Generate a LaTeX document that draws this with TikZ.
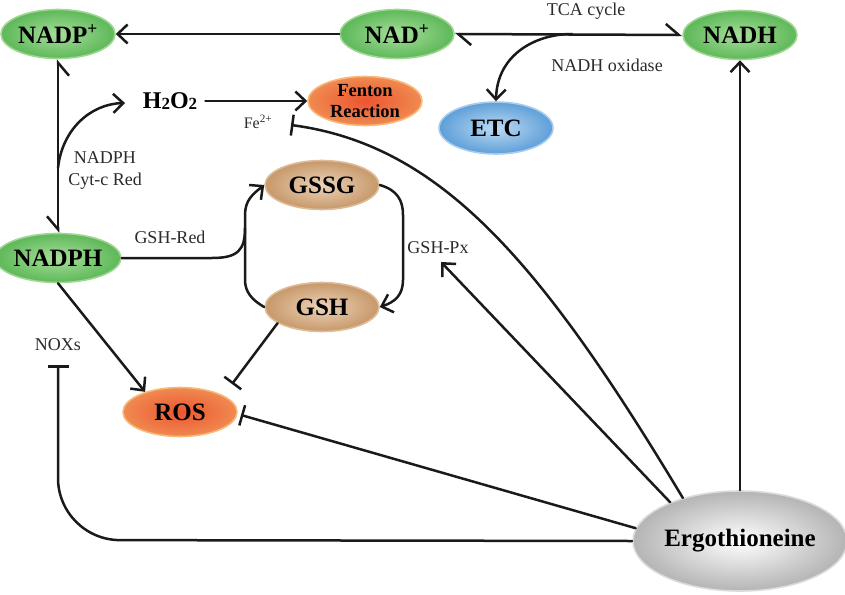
\documentclass[tikz,border=0pt]{standalone}
\usepackage{fontspec}
\setmainfont{Liberation Serif}
\usetikzlibrary{arrows.meta,shapes.geometric}
\definecolor{lnc}{HTML}{1A1A1A}
\definecolor{gin}{HTML}{A8DE9C}
\definecolor{gout}{HTML}{5DB858}
\definecolor{grim}{HTML}{9FD694}
\definecolor{rin}{HTML}{EC5530}
\definecolor{rout}{HTML}{F08A50}
\definecolor{rrim}{HTML}{F8B878}
\definecolor{bin}{HTML}{BCDAF3}
\definecolor{bout}{HTML}{5E9FD8}
\definecolor{brim}{HTML}{A8CCEE}
\definecolor{tin}{HTML}{ECD3B8}
\definecolor{tout}{HTML}{C7986A}
\definecolor{trim}{HTML}{DDBC9A}
\definecolor{ein}{HTML}{FFFFFF}
\definecolor{eout}{HTML}{B4B4B4}
\definecolor{erim}{HTML}{DADADA}
\definecolor{labc}{HTML}{2A2A2A}
\tikzset{
  barb/.tip={Straight Barb[length=10pt,width=19pt]},
  hl/.tip={Straight Barb[left,length=13pt,width=22pt]},
  hr/.tip={Straight Barb[right,length=13pt,width=22pt]},
  tbar/.tip={Bar[width=21pt]},
  lw/.style={line width=2.5pt,draw=lnc,line cap=round,line join=round},
  mol/.style={ellipse,minimum width=114pt,minimum height=49pt,inner sep=0pt,
    font=\fontsize{25pt}{27pt}\selectfont\bfseries,line width=1.6pt},
  greenfill/.style={shading=radial,inner color=gin,outer color=gout,draw=grim},
  redfill/.style={shading=radial,inner color=rin,outer color=rout,draw=rrim},
  bluefill/.style={shading=radial,inner color=bin,outer color=bout,draw=brim},
  tanfill/.style={shading=radial,inner color=tin,outer color=tout,draw=trim},
  grayfill/.style={shading=radial,inner color=ein,outer color=eout,draw=erim},
  lab/.style={font=\fontsize{18pt}{22pt}\selectfont,text=labc,inner sep=1pt}
}
\begin{document}
\begin{tikzpicture}[x=1pt,y=-1pt]
\useasboundingbox (0,0) rectangle (845,594);
% molecules
\node[mol,greenfill] (nadpp) at (58,34) {NADP\textsuperscript{+}};
\node[mol,greenfill] (nadp) at (397,34) {NAD\textsuperscript{+}};
\node[mol,greenfill] (nadh) at (740,35) {NADH};
\node[mol,greenfill] (nadph) at (58,258) {NADPH};
\node[mol,redfill,align=center,font=\fontsize{18.5pt}{21pt}\selectfont\bfseries] (fenton) at (365,101) {Fenton\\Reaction};
\node[mol,bluefill,minimum height=52pt] (etc) at (496,128) {ETC};
\node[mol,tanfill] (gssg) at (322,185) {GSSG};
\node[mol,tanfill] (gsh) at (322,307) {GSH};
\node[mol,redfill] (ros) at (180,412) {ROS};
\node[mol,grayfill,minimum width=206pt,minimum height=100pt] (erg) at (740,541) {Ergothioneine};
\node[inner sep=0pt,font=\fontsize{24pt}{26pt}\selectfont\bfseries] (h2o2) at (170,101) {H\raisebox{-1pt}{\fontsize{17pt}{17pt}\selectfont 2}O\raisebox{-1pt}{\fontsize{17pt}{17pt}\selectfont 2}};
% labels
\node[lab] (tca) at (586,11) {TCA cycle};
\node[lab] (nox) at (607,65) {NADH oxidase};
\node[lab,font=\fontsize{16pt}{18pt}\selectfont] (fe) at (258,122) {Fe\textsuperscript{2+}};
\node[lab,align=center] (cyt) at (105,170) {NADPH\\Cyt-c Red};
\node[lab] (gshred) at (170,237) {GSH-Red};
\node[lab] (gshpx) at (438,248) {GSH-Px};
\node[lab] (noxs) at (58,345) {NOXs};
% helper coordinates
\coordinate (tcaj) at (572,34);
\coordinate (hj) at (58,168);
\coordinate (htip) at (125,103);
\coordinate (feT) at (291,125);
\coordinate (pxtip) at (441,262);
\coordinate (rosT) at (241,415);
\coordinate (rosgT) at (232,384);
\coordinate (noxT) at (58,365);
% connectors
\draw[lw,-{barb}] (nadp.west) -- (nadpp.east);
\draw[lw,{hl}-{hl}] (nadp.east) -- (nadh.west);
\draw[lw,-{barb}] (tcaj) .. controls (535,34) and (497,55) .. (etc.north);
\draw[lw,{hr}-{hr}] (nadph.north) -- (nadpp.south);
\draw[lw,-{barb}] (hj) .. controls (62,130) and (90,104) .. (htip);
\draw[lw,-{barb},shorten <=8pt] (h2o2.east) -- (fenton.west);
\draw[lw,-{tbar}] (erg.143) .. controls (540,260) and (440,145) .. (feT);
\draw[lw,-{barb}] (erg.151) -- (pxtip);
\draw[lw,-{tbar}] (erg.173) -- (rosT);
\draw[lw,-{tbar},rounded corners=62pt] (erg.west) -- (58,540) -- (noxT);
\draw[lw,-{barb}] (erg.north) -- (nadh.south);
\draw[lw,-{tbar}] (gsh.200) -- (rosgT);
\draw[lw,-{barb}] (nadph.south) -- (ros.150);
\draw[lw,-{barb}] (gsh.west) .. controls (252,300) and (245,292) .. (245,280) -- (245,215) .. controls (245,200) and (253,194) .. (gssg.west);
\draw[lw] (nadph.east) -- (212,258) .. controls (238,258) and (245,250) .. (245,228);
\draw[lw,-{barb}] (gssg.east) .. controls (397,190) and (403,200) .. (403,215) -- (403,280) .. controls (403,295) and (395,302) .. (gsh.east);
\end{tikzpicture}
\end{document}
